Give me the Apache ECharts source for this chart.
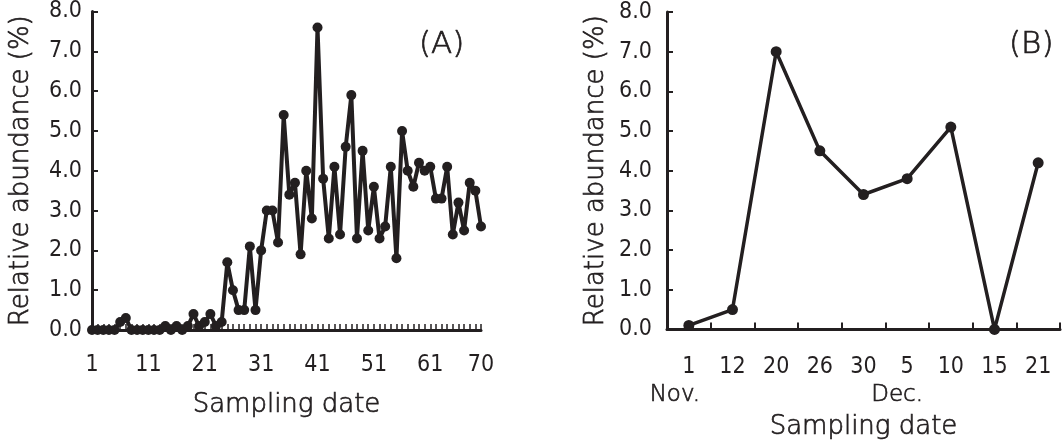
<!DOCTYPE html>
<html>
<head>
<meta charset="utf-8">
<script src="https://cdn.jsdelivr.net/npm/echarts@6/dist/echarts.min.js"></script>
<style>
  html, body { margin: 0; padding: 0; background: #fff; }
  #chart { width: 1062px; height: 446px; }
</style>
</head>
<body>
<div id="chart"></div>
<script>
// panel A: daily sampling, 70 dates
const aDays = Array.from({ length: 70 }, (_, i) => String(i + 1))
const aValues = [
  0, 0, 0, 0, 0, 0.2, 0.3, 0, 0, 0,
  0, 0, 0, 0.1, 0, 0.1, 0, 0.1, 0.4, 0.1,
  0.2, 0.4, 0.1, 0.2, 1.7, 1.0, 0.5, 0.5, 2.1, 0.5,
  2.0, 3.0, 3.0, 2.2, 5.4, 3.4, 3.7, 1.9, 4.0, 2.8,
  7.6, 3.8, 2.3, 4.1, 2.4, 4.6, 5.9, 2.3, 4.5, 2.5,
  3.6, 2.3, 2.6, 4.1, 1.8, 5.0, 4.0, 3.6, 4.2, 4.0,
  4.1, 3.3, 3.3, 4.1, 2.4, 3.2, 2.5, 3.7, 3.5, 2.6
]

// panel B: Nov./Dec. sampling dates
const bDays = ['1', '12', '20', '26', '30', '5', '10', '15', '21']
const bMonths = ['Nov.', '', '', '', '', 'Dec.', '', '', '']
const bValues = [0.1, 0.5, 7.0, 4.5, 3.4, 3.8, 5.1, 0, 4.2]

const ink = '#231f20'
const tickFont = "'Liberation Sans Narrow', 'DejaVu Sans Condensed', sans-serif"
const nameFont = "'DejaVu Sans', sans-serif"
// thin text, slightly thickened with a hairline outline
const thinText = { fontFamily: nameFont, fontWeight: 200, color: ink, textBorderColor: ink, textBorderWidth: 0.7 }

function yAxisOf(gridIndex, labelMargin) {
  return {
    type: 'value',
    gridIndex: gridIndex,
    min: 0,
    max: 8,
    interval: 1,
    name: 'Relative abundance (%)',
    nameLocation: 'middle',
    nameGap: 58,
    nameTextStyle: Object.assign({ fontSize: 26 }, thinText),
    axisLine: { show: true, lineStyle: { color: ink, width: 3 } },
    axisTick: { show: true, inside: true, length: 6, lineStyle: { color: ink, width: 2 } },
    splitLine: { show: false },
    axisLabel: {
      margin: labelMargin,
      fontFamily: tickFont,
      fontSize: 23,
      color: ink,
      formatter: v => v.toFixed(1)
    }
  }
}

const chart = echarts.init(document.getElementById('chart'), null, { renderer: 'canvas' })

chart.setOption({
  backgroundColor: '#fff',
  animation: false,
  title: [
    { text: '(A)', left: 414, top: 24, textStyle: Object.assign({ fontSize: 31 }, thinText) },
    { text: '(B)', left: 1004, top: 24, textStyle: Object.assign({ fontSize: 31 }, thinText) }
  ],
  grid: [
    { left: 92, right: 581, top: 9, bottom: 116 },
    { left: 667, right: 2, top: 12, bottom: 116 }
  ],
  xAxis: [
    {
      type: 'category',
      gridIndex: 0,
      data: aDays,
      boundaryGap: false,
      name: 'Sampling date',
      nameLocation: 'middle',
      nameGap: 62,
      nameTextStyle: Object.assign({ fontSize: 26 }, thinText),
      axisLine: { lineStyle: { color: ink, width: 3 } },
      axisTick: { show: true, inside: true, length: 6, interval: 0, lineStyle: { color: ink, width: 1.5 } },
      axisLabel: {
        margin: 24,
        fontFamily: tickFont,
        fontSize: 23,
        color: ink,
        interval: (i) => i % 10 === 0 || i === aDays.length - 1
      }
    },
    {
      type: 'category',
      gridIndex: 1,
      data: bDays,
      boundaryGap: true,
      name: 'Sampling date',
      nameLocation: 'middle',
      nameGap: 81,
      nameTextStyle: Object.assign({ fontSize: 26 }, thinText),
      axisLine: { lineStyle: { color: ink, width: 3 } },
      axisTick: { show: true, inside: true, length: 7, interval: 0, lineStyle: { color: ink, width: 2 } },
      axisLabel: {
        margin: 24,
        interval: 0,
        fontFamily: tickFont,
        fontSize: 23,
        color: ink,
        lineHeight: 28,
        formatter: (v, i) => bMonths[i] ? v + '\n{' + (i === 0 ? 'nov' : 'dec') + '|' + bMonths[i] + '}' : v,
        rich: {
          nov: Object.assign({ fontSize: 23, padding: [0, 28, 0, 0] }, thinText),
          dec: Object.assign({ fontSize: 23, padding: [0, 20, 0, 0] }, thinText)
        }
      }
    }
  ],
  yAxis: [yAxisOf(0, 10), yAxisOf(1, 15)],
  series: [
    {
      type: 'line',
      xAxisIndex: 0,
      yAxisIndex: 0,
      data: aValues,
      symbol: 'circle',
      symbolSize: 10,
      showAllSymbol: true,
      lineStyle: { color: ink, width: 4 },
      itemStyle: { color: ink }
    },
    {
      type: 'line',
      xAxisIndex: 1,
      yAxisIndex: 1,
      data: bValues,
      symbol: 'circle',
      symbolSize: 11,
      lineStyle: { color: ink, width: 3.5 },
      itemStyle: { color: ink }
    }
  ]
})
</script>
</body>
</html>
